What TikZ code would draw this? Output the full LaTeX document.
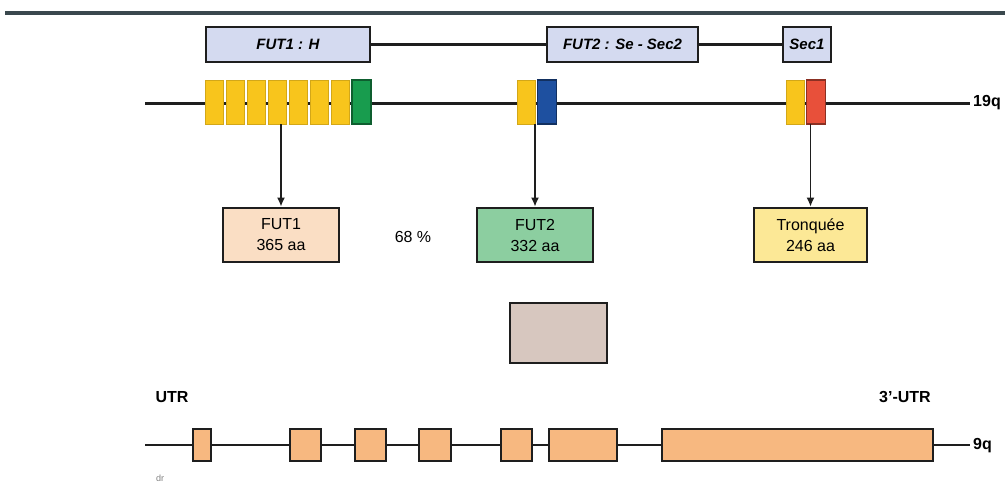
\documentclass[tikz,border=0pt]{standalone}
\usepackage{fontspec}
\setmainfont{Liberation Sans}
\usetikzlibrary{arrows.meta}
\definecolor{lav}{RGB}{212,218,240}
\definecolor{exyel}{RGB}{248,197,28}
\definecolor{exgrn}{RGB}{24,156,78}
\definecolor{exblu}{RGB}{30,80,160}
\definecolor{exred}{RGB}{232,80,58}
\definecolor{pfut1}{RGB}{250,222,196}
\definecolor{pfut2}{RGB}{140,206,160}
\definecolor{ptronq}{RGB}{252,232,150}
\definecolor{pgray}{RGB}{215,199,191}
\definecolor{exorg}{RGB}{247,184,128}
\definecolor{topline}{RGB}{58,72,78}
\definecolor{ink}{RGB}{30,30,30}
\tikzset{
  genelab/.style={draw=ink, line width=2.6pt, fill=lav, minimum height=35pt, inner sep=0pt, font=\fontsize{15}{17}\selectfont\bfseries\itshape},
  exon/.style={rectangle, inner sep=0pt, minimum height=44pt},
  yex/.style={exon, fill=exyel, draw=exyel!85!black, line width=0.4pt, minimum width=18pt},
  cex/.style={exon, line width=1.4pt, minimum width=19pt},
  prot/.style={draw=ink, line width=2.6pt, minimum width=116pt, minimum height=54pt, inner sep=0pt, align=center, font=\fontsize{16}{21}\selectfont},
  bex/.style={rectangle, draw=ink, line width=2.2pt, fill=exorg, inner sep=0pt, minimum height=32pt},
  lab/.style={font=\fontsize{16}{18}\selectfont\bfseries, inner sep=0pt},
  arr/.style={draw=ink, line width=1.8pt, -{Latex[length=9pt,width=8pt]}},
  chrom/.style={draw=ink, line width=3pt},
  link/.style={draw=ink, line width=2.2pt}
}
\begin{document}
\begin{tikzpicture}[x=1pt, y=-1pt]
\useasboundingbox (0,0) rectangle (1005,482);
% top rule
\coordinate (tl) at (5,13);
\coordinate (tr) at (1005,13);
\draw[topline, line width=3.5pt] (tl) -- (tr);
% gene labels
\node[genelab, minimum width=164pt] (g1) at (288,44.5) {FUT1 : H};
\node[genelab, minimum width=151pt] (g2) at (622.5,44.5) {FUT2 : Se - Sec2};
\node[genelab, minimum width=48pt] (g3) at (807,44.5) {Sec1};
\draw[link] (g1.east) -- (g2.west);
\draw[link] (g2.east) -- (g3.west);
% chromosome 19q
\coordinate (c19l) at (145,103);
\coordinate (c19r) at (970,103);
\draw[chrom] (c19l) -- (c19r);
\node[lab, anchor=west] (l19) at (973,103) {19q};
\foreach \i in {1,...,7} {
  \node[yex] (y\i) at ({214+21*(\i-1)},102) {};
}
\node[cex, fill=exgrn, draw=exgrn!60!black] (gr) at (361.5,102) {};
\node[yex] (y8) at (526,102) {};
\node[cex, fill=exblu, draw=exblu!60!black] (bl) at (547,102) {};
\node[yex] (y9) at (795.5,102) {};
\node[cex, fill=exred, draw=exred!60!black] (rd) at (816,102) {};
% proteins
\node[prot, fill=pfut1] (p1) at (281,235) {FUT1\\365 aa};
\node[prot, fill=pfut2] (p2) at (535,235) {FUT2\\332 aa};
\node[prot, fill=ptronq, minimum width=113pt] (p3) at (810.5,235) {Tronquée\\246 aa};
\node[font=\fontsize{16}{18}\selectfont, inner sep=0pt] (pct) at (413,237) {68 \%};
\draw[arr] (p1.north |- y4.south) -- (p1.north);
\draw[arr] (p2.north |- y8.south) -- (p2.north);
\draw[arr] (p3.north |- y9.south) -- (p3.north);
% gray box
\node[draw=ink, line width=2.6pt, fill=pgray, minimum width=97pt, minimum height=60pt, inner sep=0pt] (gb) at (558.5,333) {};
% chromosome 9q
\node[lab] (utr) at (172,397) {UTR};
\node[lab] (utr3) at (905,397) {3'-UTR};
\coordinate (c9l) at (145,445);
\coordinate (c9r) at (970,445);
\draw[ink, line width=2.4pt] (c9l) -- (c9r);
\node[lab, anchor=west] (l9) at (973,446) {9q};
\node[bex, minimum width=18pt] (b1) at (202,445) {};
\node[bex, minimum width=31pt] (b2) at (305.5,445) {};
\node[bex, minimum width=31pt] (b3) at (370.5,445) {};
\node[bex, minimum width=32pt] (b4) at (435,445) {};
\node[bex, minimum width=31pt] (b5) at (516.5,445) {};
\node[bex, minimum width=68pt] (b6) at (583,445) {};
\node[bex, minimum width=271pt] (b7) at (797.5,445) {};
\node[font=\fontsize{9}{10}\selectfont, text=gray, inner sep=0pt] (dr) at (160,478) {dr};
\end{tikzpicture}
\end{document}
